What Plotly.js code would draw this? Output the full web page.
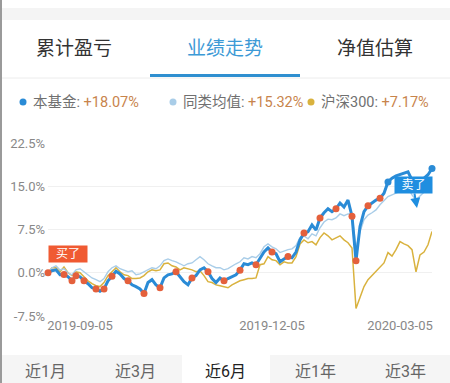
<!DOCTYPE html>
<html>
<head>
<meta charset="utf-8">
<script src="https://cdn.plot.ly/plotly-3.0.1.min.js"></script>
<style>
html,body{margin:0;padding:0;background:#fff;}
#chart{width:450px;height:383px;}
</style>
</head>
<body>
<div id="chart"></div>
<script>
// ---- data ----
const fundValues = [0,0.35,0.5,-0.35,-0.3,-0.7,-1.4,-0.5,-0.7,-1.4,-1.9,-2.6,-2.8,-3.2,-2.8,-1.4,-0.6,0.26,-0.2,-1.0,
  -1.4,-2.1,-2.4,-2.8,-3.6,-1.7,-1.2,-2.1,-2.6,-0.9,-0.35,-0.2,0.17,-0.7,-1.55,-2.1,-0.9,-0.5,0.5,0.87,
  0.17,-1.0,-1.7,-0.9,-1.4,-1.0,-0.7,-0.35,0.45,1.56,1.4,1.7,1.4,2.6,3.6,4.3,3.6,3.3,1.9,2.4,
  2.8,2.6,3.6,5.7,6.9,7.1,8.3,7.4,9.5,10.4,11.1,10.6,11.1,12.1,11.4,12.6,9.8,2.1,8.0,10.6,
  11.6,12.1,12.6,12.9,13.8,15.75,16.4,16.8,17.0,17.3,17.5,16.1,15.2,15.75,16.4,17.0,18.07];
const peerValues = [0,0.87,1.2,0.5,0.7,0,-0.35,0.5,0.7,0.17,-0.35,-0.9,-1.2,-1.55,-1.0,0.17,0.87,1.2,0.7,0.5,
  0.17,0.35,-0.35,-0.2,0.17,0.5,0.87,0.7,1.2,2.1,2.4,2.1,1.9,1.56,1.2,1.56,1.7,2.25,2.8,2.25,
  1.56,1.2,0.87,0.87,0.5,0.7,1.2,1.56,1.9,2.6,2.4,2.8,2.6,3.3,4.5,5.0,4.5,4.15,3.5,3.8,
  4.0,4.15,4.7,6.1,6.4,5.9,6.75,6.4,7.8,8.8,9.3,9.2,9.5,10.2,9.9,10.2,10.2,4.3,7.1,9.2,
  10.0,10.4,10.9,11.8,12.5,13.2,13.5,13.8,14.0,14.4,14.7,13.5,12.6,13.3,14.0,14.7,15.32];
const hs300Values = [0,0.87,0.87,0.17,1.0,0,-0.5,0.17,0,-0.7,-1.4,-1.9,-2.25,-2.4,-1.7,-0.5,0.17,0.87,0.17,-0.35,
  -0.5,-1.0,-1.0,-0.9,-0.5,0.17,0.5,0.35,0.5,1.56,1.7,1.2,1.0,0.5,0.87,0.7,0.5,0.17,0.35,-0.5,
  -1.55,-1.7,-2.1,-2.25,-2.4,-2.6,-2.1,-1.7,-1.4,-1.2,-1.0,-1.0,-0.9,1.4,1.56,2.8,2.25,2.1,1.4,1.9,
  1.7,1.7,2.8,5.0,5.7,5.2,5.4,4.85,6.1,6.9,6.4,5.7,6.1,6.4,5.7,5.2,4.3,-6.2,-4.3,-2.4,
  -1.2,-0.5,0.17,0.87,1.7,3.5,2.9,4.0,5.4,5.0,4.7,4.0,0.17,3.1,3.6,4.85,7.17];
const buyIdx = [0,4,6,7,9,12,14,16,20,24,28,32,36,40,44,48,52,56,60,64,68,72,76,77,80,83];
const sellIdx = [85,96];
const xTickIdx = [8,56,88];
const xTickLabels = ['2019-09-05','2019-12-05','2020-03-05'];
const yTickVals = [-7.5,0,7.5,15,22.5];
const yTickLabels = ['-7.5%','0.0%','7.5%','15.0%','22.5%'];
const seriesNames = ['本基金','同类均值','沪深300'];
const seriesReturns = ['+18.07%','+15.32%','+7.17%'];
const topTabs = ['累计盈亏','业绩走势','净值估算'];
const periodTabs = ['近1月','近3月','近6月','近1年','近3年'];

// ---- layout helpers (pixel -> paper) ----
const L = 48, R = 432, T = 143, B = 316;
const px = x => (x - L) / (R - L);
const py = y => (B - y) / (B - T);
const FONT = "Roboto, 'Noto Sans CJK SC', sans-serif";
const C_FUND = '#2a8bd6', C_PEER = '#a9cde8', C_HS = '#d9b23e', C_DOT = '#e4603c', C_VAL = '#c8844c';

const traces = [
  {y: hs300Values, type:'scatter', mode:'lines', line:{color:C_HS, width:1.5}, name: seriesNames[2]},
  {y: peerValues, type:'scatter', mode:'lines', line:{color:C_PEER, width:1.4}, name: seriesNames[1]},
  {y: fundValues, type:'scatter', mode:'lines', line:{color:C_FUND, width:3}, name: seriesNames[0]},
  {x: buyIdx, y: buyIdx.map(i => fundValues[i]), type:'scatter', mode:'markers',
   marker:{color:C_DOT, size:7}, cliponaxis:false},
  {x: sellIdx, y: sellIdx.map(i => fundValues[i]), type:'scatter', mode:'markers',
   marker:{color:C_FUND, size:7}, cliponaxis:false}
];

const shapes = [
  {type:'rect', xref:'paper', yref:'paper', x0:px(0), x1:px(450), y0:py(20), y1:py(8), fillcolor:'#f4f4f4', line:{width:0}, layer:'below'},
  {type:'rect', xref:'paper', yref:'paper', x0:px(150), x1:px(300), y0:py(77), y1:py(74), fillcolor:'#2f8fd0', line:{width:0}},
  {type:'line', xref:'paper', yref:'paper', x0:px(0), x1:px(450), y0:py(78), y1:py(78), line:{color:'#ececec', width:1}},
  {type:'rect', xref:'paper', yref:'paper', x0:px(0), x1:px(450), y0:py(383), y1:py(355), fillcolor:'#f5f5f5', line:{width:0}, layer:'below'},
  {type:'rect', xref:'paper', yref:'paper', x0:px(182), x1:px(270), y0:py(383), y1:py(355), fillcolor:'#ffffff', line:{width:0}, layer:'below'},
  {type:'line', xref:'paper', yref:'paper', x0:px(1), x1:px(1), y0:py(0), y1:py(383), line:{color:'#9a9a9a', width:2}}
];
const dotColors = [C_FUND, C_PEER, C_HS];
const legendX = [23, 173, 311];
legendX.forEach((x, k) => shapes.push({type:'circle', xref:'paper', yref:'paper', xsizemode:'pixel', ysizemode:'pixel',
  xanchor:px(x), yanchor:py(102), x0:-3.5, x1:3.5, y0:-3.5, y1:3.5, fillcolor:dotColors[k], line:{width:0}}));

const annotations = [];
const tabX = [74, 225, 375];
topTabs.forEach((t, k) => annotations.push({xref:'paper', yref:'paper', x:px(tabX[k]), y:py(48), xanchor:'center', yanchor:'middle',
  text:t, showarrow:false, font:{family:FONT, size:19, color: k === 1 ? '#3d9ad6' : '#333333'}}));
seriesNames.forEach((n, k) => annotations.push({xref:'paper', yref:'paper', x:px(legendX[k] + 8), y:py(102), xanchor:'left', yanchor:'middle',
  text: n + ': <span style="color:' + C_VAL + '">' + seriesReturns[k] + '</span>', showarrow:false,
  font:{family:FONT, size:14.5, color:'#707070'}}));
const periodX = [45, 135, 225, 315, 405];
periodTabs.forEach((t, k) => annotations.push({xref:'paper', yref:'paper', x:px(periodX[k]), y:py(371), xanchor:'center', yanchor:'middle',
  text:t, showarrow:false, font:{family:FONT, size:16, color: k === 2 ? '#222222' : '#666666'}}));
annotations.push({xref:'paper', yref:'paper', x:px(48), y:py(263), xanchor:'left', yanchor:'bottom', text:'买了',
  showarrow:false, bgcolor:'#f05a32', width:38, height:16, borderpad:0, font:{family:FONT, size:12, color:'#ffffff'}});
annotations.push({xref:'paper', yref:'paper', x:px(417), y:py(208), ax:-4, ay:-23, text:'卖了', showarrow:true,
  arrowhead:2, arrowsize:1, arrowwidth:2, arrowcolor:'#1f8ee0', standoff:0,
  bgcolor:'#1f8ee0', width:37, height:16, borderpad:0, font:{family:FONT, size:12, color:'#ffffff'}});

const layout = {
  width:450, height:383,
  margin:{l:L, r:450-R, t:T, b:383-B, pad:0},
  paper_bgcolor:'#ffffff', plot_bgcolor:'#ffffff',
  showlegend:false, hovermode:false,
  font:{family:FONT, color:'#888888', size:13},
  xaxis:{range:[0, fundValues.length-1], tickmode:'array', tickvals:xTickIdx, ticktext:xTickLabels,
    showgrid:false, zeroline:false, showline:false, ticks:'', automargin:false,
    tickfont:{family:FONT, size:13, color:'#888888'}},
  yaxis:{range:[-7.5, 22.5], tickmode:'array', tickvals:yTickVals, ticktext:yTickLabels,
    showgrid:true, gridcolor:'#f0f0f0', gridwidth:1, zeroline:false, showline:false, ticks:'', automargin:false,
    ticklabelstandoff:2, tickfont:{family:FONT, size:13, color:'#888888'}},
  shapes: shapes,
  annotations: annotations
};

Plotly.newPlot('chart', traces, layout, {staticPlot:true, displayModeBar:false});
</script>
</body>
</html>
